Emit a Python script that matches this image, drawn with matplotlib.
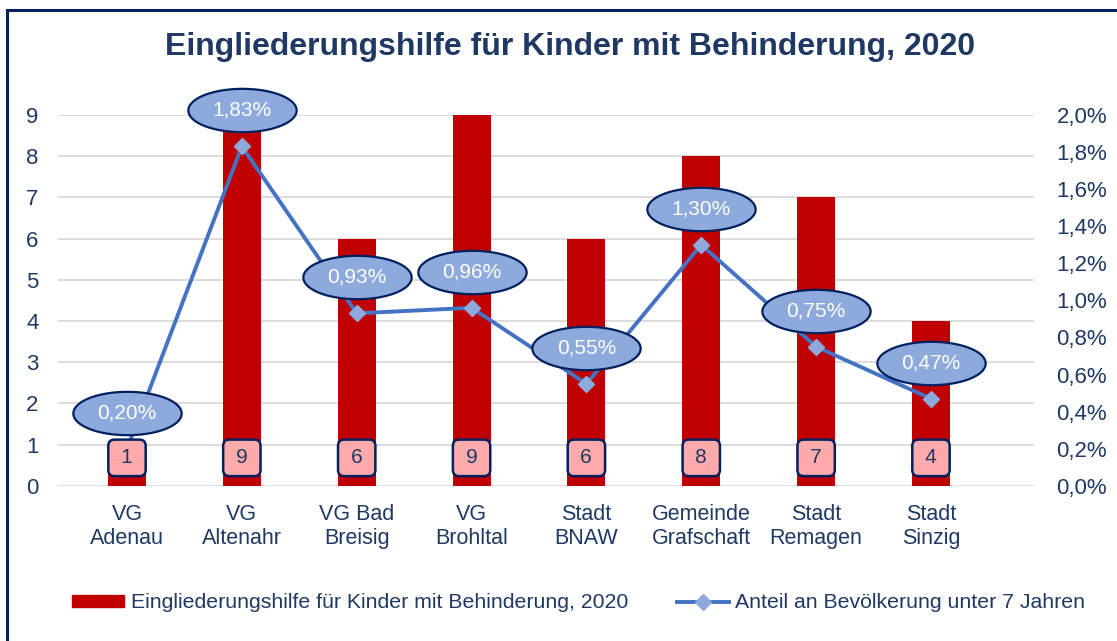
import matplotlib.pyplot as plt
import numpy as np
from matplotlib.path import Path
from matplotlib.patches import Rectangle
from matplotlib.lines import Line2D
from matplotlib.transforms import offset_copy
from matplotlib.ticker import FuncFormatter, MultipleLocator

plt.rcParams['font.family'] = ['Liberation Sans', 'DejaVu Sans']

# Daten
gemeinden = ["VG\nAdenau", "VG\nAltenahr", "VG Bad\nBreisig", "VG\nBrohltal",
             "Stadt\nBNAW", "Gemeinde\nGrafschaft", "Stadt\nRemagen", "Stadt\nSinzig"]
faelle = [1, 9, 6, 9, 6, 8, 7, 4]
anteil = [0.20, 1.83, 0.93, 0.96, 0.55, 1.30, 0.75, 0.47]  # in %

titel = "Eingliederungshilfe für Kinder mit Behinderung, 2020"
label_balken = "Eingliederungshilfe für Kinder mit Behinderung, 2020"
label_linie = "Anteil an Bevölkerung unter 7 Jahren"

navy = "#1F3864"
rot = "#C00000"
blau = "#4472C4"
hellblau = "#8EA9DB"

fig = plt.figure(figsize=(11.17, 6.41), dpi=100)
fig.patches.append(Rectangle((7 / 1117, -0.1), 1.2, 1 - 10 / 641 + 0.1,
                             transform=fig.transFigure, fill=False,
                             edgecolor="#002060", linewidth=2.2))

ax = fig.add_axes([0.052, 0.242, 0.874, 0.5788])
x = np.arange(len(gemeinden))

ax.bar(x, faelle, width=0.33, color=rot, zorder=2)
ax.set_ylim(0, 9)
ax.set_xlim(-0.6, 7.9)
ax.yaxis.set_major_locator(MultipleLocator(1))
ax.grid(axis="y", color="#D9D9D9", linewidth=1.3, zorder=0)
ax.set_axisbelow(True)
for s in ax.spines.values():
    s.set_visible(False)
ax.set_xticks(x)
ax.set_xticklabels(gemeinden, fontsize=15.5, color=navy, linespacing=1.2)
ax.tick_params(axis="x", length=0, pad=13)
ax.tick_params(axis="y", length=0, pad=14, labelsize=16, labelcolor=navy)

ax2 = ax.twinx()
ax2.set_ylim(0, 2.0)
ax2.yaxis.set_major_locator(MultipleLocator(0.2))
ax2.yaxis.set_major_formatter(FuncFormatter(lambda v, p: f"{v:.1f}%".replace(".", ",")))
ax2.tick_params(axis="y", length=0, pad=16, labelsize=16, labelcolor=navy)
for s in ax2.spines.values():
    s.set_visible(False)

ax2.plot(x, anteil, color=blau, linewidth=2.8, marker="D", markersize=8,
         markerfacecolor=hellblau, markeredgecolor=hellblau, zorder=3)

# Wertelabels unten in den Balken (über der Linie)
for xi, v in zip(x, faelle):
    ax2.annotate(f"\u2009{v}\u2009", xy=(xi, 0), xytext=(0, 28), textcoords="offset pixels",
                 ha="center", va="center", fontsize=15, color=navy, zorder=6,
                 bbox=dict(boxstyle="round,pad=0.42,rounding_size=0.3",
                           facecolor="#FFABAB", edgecolor="#002060", linewidth=1.8))

# Ellipsen-Labels oberhalb der Punkte
t = np.linspace(0, 2 * np.pi, 100)
ellipse = Path(np.column_stack([np.cos(t), 0.4 * np.sin(t)]), closed=True)
versatz = offset_copy(ax2.transData, fig=fig, x=0, y=36, units="dots")
ax2.plot(x, anteil, ls="none", marker=ellipse, markersize=78,
         markerfacecolor=hellblau, markeredgecolor="#002060",
         markeredgewidth=1.6, transform=versatz, zorder=4, clip_on=False)
for xi, v in zip(x, anteil):
    ax2.text(xi, v, f"{v:.2f}%".replace(".", ","), transform=versatz,
             ha="center", va="center", fontsize=15, color="white", zorder=5,
             clip_on=False)

fig.text(0.51, 0.927, titel, ha="center", va="center", fontsize=23,
         fontweight="bold", color=navy)

h1 = Rectangle((0, 0), 1, 1, color=rot)
h2 = Line2D([], [], color=blau, linewidth=2.8, marker="D", markersize=8,
            markerfacecolor=hellblau, markeredgecolor=hellblau)
fig.legend([h1, h2], [label_balken, label_linie], loc="center",
           bbox_to_anchor=(0.518, 1 - 603 / 641), ncol=2, frameon=False,
           fontsize=15.3, labelcolor=navy, handlelength=2.45, handleheight=0.55,
           handletextpad=0.3, columnspacing=2.3)

fig.savefig("out.png", dpi=100)
